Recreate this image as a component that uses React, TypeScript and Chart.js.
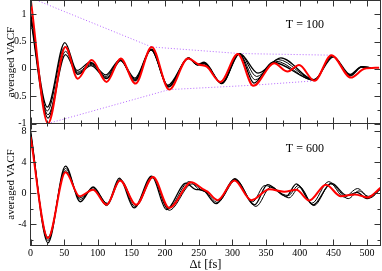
import React, { useEffect, useRef } from "react";
import { Chart, registerables } from "chart.js";

Chart.register(...registerables);

const FONT = "'Liberation Serif', 'DejaVu Serif', serif";

// ---------- axis ticks ----------
const xMajorTicks = [0, 50, 100, 150, 200, 250, 300, 350, 400, 450, 500];
const xMinorTicks = [25, 75, 125, 175, 225, 275, 325, 375, 425, 475];
const yMajor100 = [-1, -0.5, 0, 0.5, 1];
const yMinor100 = [-0.75, -0.25, 0.25, 0.75];
const yMajor600 = [-4, 0, 4, 8];
const yMinor600 = [-6, -2, 2, 6];

// ---------- T = 100 panel ----------
const red100T = [0, 26, 52, 70, 91, 113, 134, 156, 180, 206, 234, 250, 262, 282, 308, 331, 362, 382, 399, 422, 447, 476, 496, 518];
const red100V = [1.3, -1.0, 0.4, -0.18, 0.16, -0.24, 0.19, -0.27, 0.4, -0.38, 0.19, 0.08, 0.04, -0.24, 0.27, -0.31, 0.1, -0.05, 0.07, -0.22, 0.25, -0.16, 0.0, 0.02];

const blk100aT = [0, 25, 51, 69, 89, 112, 133, 155, 179, 204, 235, 248, 258, 284, 311, 338, 372, 421, 450, 475, 492, 506];
const blk100aV = [1.03, -0.7, 0.48, -0.03, 0.12, -0.11, 0.17, -0.17, 0.35, -0.3, 0.19, 0.08, 0.12, -0.27, 0.28, -0.08, 0.2, -0.2, 0.22, -0.1, 0.04, 0.02];
const blk100bT = [0, 25, 51, 70, 90, 112, 133, 155, 179, 205, 235, 248, 258, 284, 311, 336, 368, 421, 449, 475, 492, 506];
const blk100bV = [1.0, -0.77, 0.4, -0.06, 0.1, -0.14, 0.16, -0.19, 0.34, -0.32, 0.19, 0.07, 0.11, -0.27, 0.28, -0.14, 0.17, -0.2, 0.23, -0.11, 0.04, 0.02];
const blk100cT = [0, 26, 52, 70, 90, 113, 133, 155, 179, 205, 235, 248, 258, 284, 310, 334, 364, 421, 448, 475, 492, 506];
const blk100cV = [0.96, -0.84, 0.32, -0.08, 0.08, -0.16, 0.16, -0.2, 0.35, -0.33, 0.2, 0.08, 0.1, -0.26, 0.28, -0.2, 0.14, -0.21, 0.23, -0.12, 0.03, 0.02];
const blk100dT = [0, 26, 52, 70, 90, 113, 134, 155, 180, 205, 235, 248, 258, 284, 310, 332, 360, 422, 448, 475, 492, 506];
const blk100dV = [0.93, -0.9, 0.26, -0.1, 0.06, -0.18, 0.15, -0.22, 0.36, -0.33, 0.2, 0.07, 0.09, -0.26, 0.28, -0.26, 0.12, -0.21, 0.24, -0.13, 0.03, 0.02];

const envUpT = [0, 180, 310, 447];
const envUpV = [1.3, 0.4, 0.28, 0.25];
const envLoT = [26, 206, 330, 422];
const envLoV = [-1.0, -0.38, -0.3, -0.22];

// ---------- T = 600 panel ----------
const red600T = [0, 26, 52, 73, 93, 113, 133, 157, 182, 206, 239, 255, 263, 278, 303, 328, 355, 377, 395, 414, 439, 461, 482, 501, 520];
const red600V = [7.3, -5.8, 2.7, -0.4, 0.45, -1.5, 1.65, -1.5, 2.1, -1.9, 1.4, 0.6, 0.2, -0.9, 1.65, -0.9, 0.5, 0.2, 0.45, -0.95, 1.1, -0.4, -0.15, -0.55, 0.7];

const blk600aT = [0, 26, 52, 74, 93, 114, 132, 154, 180, 202, 231, 245, 256, 276, 303, 333, 352, 380, 395, 420, 447, 470, 485, 500, 520];
const blk600aV = [8.1, -6.4, 3.5, -1.1, 0.8, -1.4, 1.95, -1.9, 2.2, -2.1, 1.3, 0.5, 0.4, -1.35, 1.8, -1.5, 1.1, -0.4, 1.2, -1.5, 1.3, -0.3, 0.1, -0.7, 0.6];
const blk600bT = [0, 26, 52, 74, 93, 114, 133, 155, 181, 204, 236, 250, 260, 278, 304, 330, 348, 383, 398, 418, 443, 466, 486, 502, 520];
const blk600bV = [7.9, -6.1, 3.2, -0.8, 0.7, -1.3, 1.8, -1.7, 2.15, -2.0, 1.5, 0.5, 0.2, -1.2, 1.9, -1.1, 1.0, -0.3, 1.0, -1.3, 1.5, -0.5, 0.6, -0.4, 0.6];
const blk600cT = [0, 26, 52, 73, 94, 113, 134, 157, 182, 206, 240, 256, 265, 279, 305, 335, 357, 384, 400, 421, 446, 472, 488, 504, 520];
const blk600cV = [7.6, -5.7, 2.9, -0.6, 0.5, -1.6, 1.7, -1.6, 2.0, -2.2, 1.2, 0.3, 0.0, -1.0, 1.7, -1.7, 0.8, -0.6, 0.8, -1.6, 1.2, -0.7, 0.3, -0.6, 0.5];

const pts = (t: number[], v: number[]) => t.map((x, i) => ({ x, y: v[i] }));

const curve = (t: number[], v: number[], color: string, width: number) => ({
  data: pts(t, v),
  borderColor: color,
  borderWidth: width,
  pointRadius: 0,
  fill: false,
  cubicInterpolationMode: "monotone" as const,
});

const envelope = (t: number[], v: number[]) => ({
  data: pts(t, v),
  borderColor: "#b566ff",
  borderWidth: 1,
  borderDash: [1, 2],
  pointRadius: 0,
  fill: false,
  tension: 0,
});

const frameTicks = {
  id: "frameTicks",
  afterDraw(chart: any, _args: any, opts: any) {
    const { ctx, chartArea: a, scales } = chart;
    const xs = scales.x;
    const ys = scales.y;
    ctx.save();
    ctx.strokeStyle = "#333";
    ctx.lineWidth = 1;
    ctx.strokeRect(a.left, a.top, a.right - a.left, a.bottom - a.top);
    ctx.beginPath();
    const xt = (vals: number[], len: number) => {
      for (const v of vals) {
        const px = Math.round(xs.getPixelForValue(v)) + 0.5;
        ctx.moveTo(px, a.bottom);
        ctx.lineTo(px, a.bottom - len);
        ctx.moveTo(px, a.top);
        ctx.lineTo(px, a.top + len);
      }
    };
    const yt = (vals: number[], len: number) => {
      for (const v of vals) {
        const py = Math.round(ys.getPixelForValue(v)) + 0.5;
        ctx.moveTo(a.left, py);
        ctx.lineTo(a.left + len, py);
        ctx.moveTo(a.right, py);
        ctx.lineTo(a.right - len, py);
      }
    };
    xt(xMajorTicks, 6);
    xt(xMinorTicks, 3);
    yt(opts.yMajor, 6);
    yt(opts.yMinor, 3);
    ctx.stroke();
    ctx.fillStyle = "#000";
    ctx.font = `12px ${FONT}`;
    ctx.textAlign = "center";
    ctx.textBaseline = "middle";
    ctx.fillText(
      opts.label,
      a.left + (a.right - a.left) * 0.784,
      a.top + (a.bottom - a.top) * opts.labelFy
    );
    ctx.restore();
  },
};

function makeOptions(
  yMin: number,
  yMax: number,
  yMajor: number[],
  yMinor: number[],
  label: string,
  labelFy: number,
  showX: boolean,
  padBottom: number
): any {
  return {
    animation: false,
    responsive: false,
    events: [],
    layout: { padding: { top: 0.5, right: 1.5, bottom: padBottom, left: 0 } },
    plugins: {
      legend: { display: false },
      tooltip: { enabled: false },
      frameTicks: { yMajor, yMinor, label, labelFy },
    },
    scales: {
      x: {
        type: "linear",
        min: 0,
        max: 520,
        display: showX,
        afterBuildTicks: (s: any) => {
          s.ticks = xMajorTicks.map((value) => ({ value }));
        },
        afterFit: (s: any) => {
          s.height = showX ? 25.5 : 0;
          s.paddingLeft = 0;
          s.paddingRight = 0;
        },
        grid: { display: false, drawTicks: false },
        border: { display: false },
        ticks: {
          font: { family: FONT, size: 10 },
          color: "#000",
          padding: 2,
          maxRotation: 0,
          autoSkip: false,
          callback: (v: any) => String(v),
        },
        title: {
          display: true,
          text: "Δt [fs]",
          color: "#000",
          font: { family: FONT, size: 12.5, lineHeight: 1 },
          padding: { top: 0, bottom: 0 },
        },
      },
      y: {
        type: "linear",
        min: yMin,
        max: yMax,
        afterBuildTicks: (s: any) => {
          s.ticks = yMajor.map((value) => ({ value }));
        },
        afterFit: (s: any) => {
          s.width = 30.5;
          s.paddingTop = 0;
          s.paddingBottom = 0;
        },
        grid: { display: false, drawTicks: false },
        border: { display: false },
        ticks: {
          font: { family: FONT, size: 10 },
          color: "#000",
          padding: 4,
          autoSkip: false,
          callback: (v: any) => String(v),
        },
        title: {
          display: true,
          text: "averaged VACF",
          color: "#000",
          font: { family: FONT, size: 11 },
          padding: { top: 5, bottom: 0 },
        },
      },
    },
  };
}

export default function App() {
  const topRef = useRef<HTMLCanvasElement>(null);
  const botRef = useRef<HTMLCanvasElement>(null);

  useEffect(() => {
    const top = new Chart(topRef.current as HTMLCanvasElement, {
      type: "line",
      data: {
        datasets: [
          curve(red100T, red100V, "#ff0000", 2),
          curve(blk100aT, blk100aV, "#000", 1.3),
          curve(blk100bT, blk100bV, "#000", 1),
          curve(blk100cT, blk100cV, "#000", 1),
          curve(blk100dT, blk100dV, "#000", 1.3),
          envelope(envUpT, envUpV),
          envelope(envLoT, envLoV),
        ] as any,
      },
      options: makeOptions(-1, 1.25, yMajor100, yMinor100, "T = 100", 0.2, false, 6.5),
      plugins: [frameTicks as any],
    });
    const bot = new Chart(botRef.current as HTMLCanvasElement, {
      type: "line",
      data: {
        datasets: [
          curve(red600T, red600V, "#ff0000", 2),
          curve(blk600aT, blk600aV, "#000", 1.3),
          curve(blk600bT, blk600bV, "#000", 1),
          curve(blk600cT, blk600cV, "#000", 1),
        ] as any,
      },
      options: makeOptions(-6.75, 9, yMajor600, yMinor600, "T = 600", 0.209, true, 0),
      plugins: [frameTicks as any],
    });
    return () => {
      top.destroy();
      bot.destroy();
    };
  }, []);

  return (
    <div style={{ position: "absolute", left: 0, top: 0, width: 382, height: 271, background: "#fff" }}>
      <canvas
        ref={topRef}
        width={382}
        height={130}
        style={{ position: "absolute", left: 0, top: 0, display: "block" }}
      />
      <canvas
        ref={botRef}
        width={382}
        height={148}
        style={{ position: "absolute", left: 0, top: 123, display: "block" }}
      />
    </div>
  );
}
